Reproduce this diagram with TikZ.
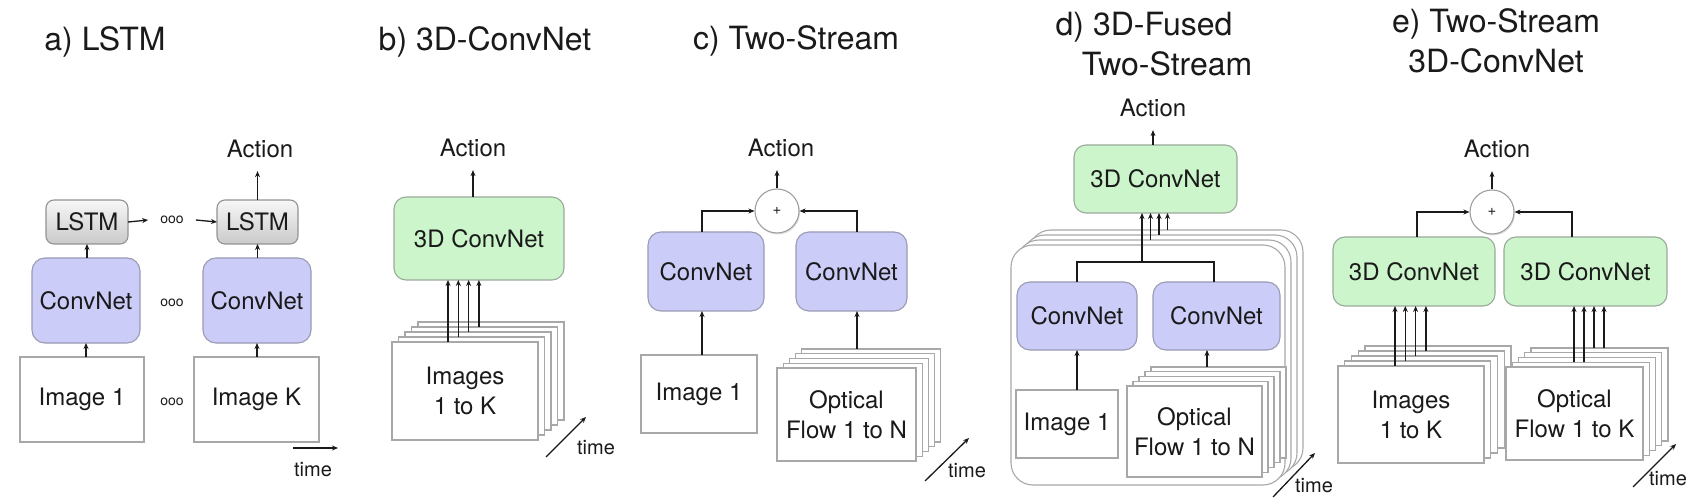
\documentclass[tikz,border=0pt]{standalone}
\usepackage{fontspec}
\setmainfont{TeX Gyre Heros}
\usetikzlibrary{arrows.meta,shadows}
\definecolor{cnblue}{HTML}{CCCCF9}
\definecolor{cnblueb}{HTML}{9A9AB4}
\definecolor{cngreen}{HTML}{CCF5CC}
\definecolor{cngreenb}{HTML}{9AAA9A}
\definecolor{boxgray}{HTML}{A8A8A8}
\definecolor{txt}{HTML}{1A1A1A}
\tikzset{
  base/.style={inner sep=0pt, outer sep=0pt, align=center, text=txt,
    font=\fontsize{24}{30}\selectfont, line width=1.1pt},
  cnbox/.style={base, draw=cnblueb, fill=cnblue, rounded corners=13pt},
  gbox/.style={base, draw=cngreenb, fill=cngreen, rounded corners=12pt},
  lstmbox/.style={base, draw=gray!85, top color=gray!6, bottom color=gray!42, rounded corners=8pt},
  imgbox/.style={base, draw=boxgray, fill=white},
  outerbox/.style={imgbox, rounded corners=22pt, minimum width=274pt, minimum height=240pt},
  arr/.style={-{Stealth[length=6pt,width=5pt]}, line width=1.3pt, draw=txt},
  conn/.style={line width=1.3pt, draw=txt},
  plusnode/.style={circle, draw=gray!75, fill=white, minimum size=44pt, inner sep=0pt,
    line width=1.1pt, font=\fontsize{15}{15}\selectfont, text=txt,
    drop shadow={shadow xshift=1pt, shadow yshift=-1.5pt, opacity=0.25}},
  lbl/.style={font=\fontsize{24}{24}\selectfont, inner sep=0pt, inner ysep=13pt, text=txt},
  ttl/.style={font=\fontsize{32}{40}\selectfont, inner sep=0pt, text=txt},
  ooo/.style={font=\fontsize{14}{14}\selectfont, inner sep=0pt, text=txt},
  tlbl/.style={font=\fontsize{20}{20}\selectfont, inner sep=0pt, text=txt}
}
% name, cx, cy, w, h, dx, dy, text
\newcommand{\mystack}[8]{%
  \foreach \i in {4,3,2,1} {
    \node[imgbox, minimum width=#4pt, minimum height=#5pt] (#1\i) at ({#2+\i*#6},{#3-\i*#7}) {};
  }
  \node[imgbox, minimum width=#4pt, minimum height=#5pt] (#10) at (#2,#3) {#8};
}
\begin{document}
\begin{tikzpicture}[x=1pt,y=-1pt]
\fill[white] (0,0) rectangle (1696,502);
\useasboundingbox (0,0) rectangle (1696,502);

% ---------- titles ----------
\node[ttl, anchor=base] (ta) at (105,51) {a) LSTM};
\node[ttl, anchor=base] (tb) at (485,51) {b) 3D-ConvNet};
\node[ttl, anchor=base] (tc) at (796,50) {c) Two-Stream};
\node[ttl, anchor=base] (td1) at (1144,36) {d) 3D-Fused};
\node[ttl, anchor=base] (td2) at (1167,76) {Two-Stream};
\node[ttl, anchor=base] (te1) at (1496,33) {e) Two-Stream};
\node[ttl, anchor=base] (te2) at (1496,73) {3D-ConvNet};

% ---------- a) LSTM ----------
\node[lstmbox, minimum width=82pt, minimum height=44pt] (lstm1) at (87,222) {LSTM};
\node[lstmbox, minimum width=81pt, minimum height=44pt] (lstm2) at (257.5,222) {LSTM};
\node[ooo, inner xsep=12pt] (oooL) at (172,220) {ooo};
\node[cnbox, minimum width=108pt, minimum height=85pt] (cn1a) at (86,300.5) {ConvNet};
\node[cnbox, minimum width=108pt, minimum height=85pt] (cn2a) at (257,300.5) {ConvNet};
\node[ooo] (oooC) at (172,303) {ooo};
\node[imgbox, minimum width=124pt, minimum height=85pt] (img1a) at (82,399.5) {Image 1};
\node[imgbox, minimum width=125pt, minimum height=85pt] (imgKa) at (256.5,399.5) {Image K};
\node[ooo] (oooI) at (172,402) {ooo};
\node[lbl] (actA) at (260,149) {Action};
\draw[arr] (cn1a.south |- img1a.north) -- (cn1a.south);
\draw[arr] (cn2a.south |- imgKa.north) -- (cn2a.south);
\draw[arr] (lstm1.south |- cn1a.north) -- (lstm1.south);
\draw[arr] (lstm2.south |- cn2a.north) -- (lstm2.south);
\draw[arr] (lstm1.east) -- (oooL.west);
\draw[arr] (oooL.east) -- (lstm2.west);
\draw[arr] (lstm2.north) -- (lstm2.north |- actA.south);
\coordinate (taS) at (293,448);
\coordinate (taE) at (338,448);
\draw[arr] (taS) -- (taE);
\node[tlbl] (timeA) at (313,470) {time};

% ---------- b) 3D-ConvNet ----------
\node[gbox, minimum width=170pt, minimum height=83pt] (cn3b) at (479,238.5) {3D ConvNet};
\node[lbl] (actB) at (473,148) {Action};
\draw[arr] (actB.south |- cn3b.north) -- (actB.south);
\mystack{bs}{465}{391}{146}{98}{6.5}{5}{Images\\1 to K}
\foreach \k in {0,1,2,3} {
  \coordinate (bA\k) at ({448+10.3*\k},{342-5*\k});
  \draw[arr] (bA\k) -- (bA\k |- cn3b.south);
}
\coordinate (tbS) at (546,457);
\coordinate (tbE) at (586,417);
\draw[arr] (tbS) -- (tbE);
\node[tlbl] (timeB) at (596,448) {time};

% ---------- c) Two-Stream ----------
\node[plusnode] (plusC) at (777,211) {+};
\node[lbl] (actC) at (781,148) {Action};
\draw[arr] (plusC.north) -- (plusC.north |- actC.south);
\node[cnbox, minimum width=116pt, minimum height=79pt] (cn1c) at (706,271.5) {ConvNet};
\node[cnbox, minimum width=111pt, minimum height=79pt] (cn2c) at (851.5,271.5) {ConvNet};
\node[imgbox, minimum width=116pt, minimum height=78pt] (img1c) at (699,394) {Image 1};
\mystack{cs}{846.5}{414.5}{139}{93}{6.1}{4.75}{Optical\\Flow 1 to N}
\draw[arr] ([xshift=-4pt]cn1c.north) |- (plusC.west);
\draw[arr] ([xshift=5.5pt]cn2c.north) |- (plusC.east);
\draw[arr] ([xshift=-4pt]cn1c.south |- img1c.north) -- ([xshift=-4pt]cn1c.south);
\coordinate (cF) at (857,349);
\draw[arr] (cF) -- (cF |- cn2c.south);
\coordinate (tcS) at (925,481);
\coordinate (tcE) at (969,438);
\draw[arr] (tcS) -- (tcE);
\node[tlbl] (timeC) at (967,471) {time};

% ---------- d) 3D-Fused Two-Stream ----------
\foreach \i in {3,2,1} {
  \node[outerbox] (od\i) at ({1148+6*\i},{365-5*\i}) {};
}
\node[outerbox] (od0) at (1148,365) {};
\node[gbox, minimum width=163pt, minimum height=68pt] (cn3d) at (1155.5,179) {3D ConvNet};
\node[lbl] (actD) at (1153,108) {Action};
\draw[arr] (actD.south |- cn3d.north) -- (actD.south);
\node[cnbox, minimum width=120pt, minimum height=68pt] (cn1d) at (1077,316) {ConvNet};
\node[cnbox, minimum width=127pt, minimum height=68pt] (cn2d) at (1216.5,316) {ConvNet};
\node[imgbox, minimum width=102pt, minimum height=68pt] (img1d) at (1067,424) {Image 1};
\mystack{ds}{1194.5}{431.5}{135}{91}{6}{4.75}{Optical\\Flow 1 to N}
\coordinate (dJ) at (1142,262);
\draw[conn] (cn1d.north) |- (dJ) -| ([xshift=-2.5pt]cn2d.north);
\draw[arr] (dJ) -- (dJ |- cn3d.south);
\foreach \k in {1,2,3} {
  \coordinate (dA\k) at ({1142+8.5*\k},{245-5*\k});
  \draw[arr] (dA\k) -- (dA\k |- cn3d.south);
}
\draw[arr] (cn1d.south |- img1d.north) -- (cn1d.south);
\coordinate (dF) at (1207,367);
\draw[arr] (dF) -- (dF |- cn2d.south);
\coordinate (tdS) at (1273,497);
\coordinate (tdE) at (1315,453);
\draw[arr] (tdS) -- (tdE);
\node[tlbl] (timeD) at (1314,486) {time};

% ---------- e) Two-Stream 3D-ConvNet ----------
\node[plusnode] (plusE) at (1492,212) {+};
\node[lbl] (actE) at (1497,149) {Action};
\draw[arr] (plusE.north) -- (plusE.north |- actE.south);
\node[gbox, minimum width=162pt, minimum height=69pt] (cn3e1) at (1414,271.5) {3D ConvNet};
\node[gbox, minimum width=163pt, minimum height=69pt] (cn3e2) at (1585.5,271.5) {3D ConvNet};
\draw[arr] ([xshift=3pt]cn3e1.north) |- (plusE.west);
\draw[arr] ([xshift=-13.5pt]cn3e2.north) |- (plusE.east);
\mystack{es}{1411}{414.5}{146}{97}{6.75}{5}{Images\\1 to K}
\mystack{fs}{1574.5}{413.5}{137}{93}{6.25}{4.75}{Optical\\Flow 1 to K}
\foreach \k in {0,1,2,3} {
  \coordinate (eA\k) at ({1395+10.3*\k},{366-5*\k});
  \draw[arr] (eA\k) -- (eA\k |- cn3e1.south);
}
\foreach \k/\yy in {0/362,1/362,2/348,3/348} {
  \coordinate (eB\k) at ({1574+10*\k},\yy);
  \draw[arr] (eB\k) -- (eB\k |- cn3e2.south);
}
\coordinate (teS) at (1633,487);
\coordinate (teE) at (1676,444);
\draw[arr] (teS) -- (teE);
\node[tlbl] (timeE) at (1668,479) {time};
\end{tikzpicture}
\end{document}
